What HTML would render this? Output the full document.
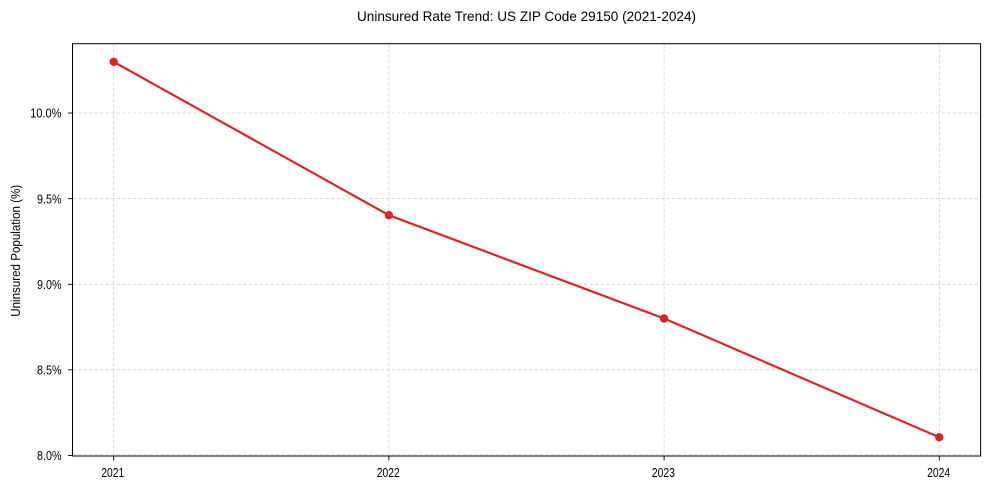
<!DOCTYPE html>
<html>
<head>
<meta charset="utf-8">
<style>
  html, body { margin: 0; padding: 0; background: #ffffff; }
  svg { display: block; }
  text { font-family: "Liberation Sans", Arial, sans-serif; fill: #000; }
</style>
</head>
<body>
<svg width="989" height="490" viewBox="0 0 989 490" xmlns="http://www.w3.org/2000/svg">
  <rect x="0" y="0" width="989" height="490" fill="#ffffff"/>

  <!-- Title -->
  <text x="526.5" y="21" font-size="14" text-anchor="middle" textLength="339" lengthAdjust="spacingAndGlyphs">Uninsured Rate Trend: US ZIP Code 29150 (2021-2024)</text>

  <!-- Grid lines -->
  <g stroke="#cccccc" stroke-width="0.8" stroke-dasharray="3.5,2" fill="none" opacity="0.9">
    <line x1="113.7" y1="43.7" x2="113.7" y2="456"/>
    <line x1="388.9" y1="43.7" x2="388.9" y2="456"/>
    <line x1="664.1" y1="43.7" x2="664.1" y2="456"/>
    <line x1="939.3" y1="43.7" x2="939.3" y2="456"/>
    <line x1="72.5" y1="454.5" x2="980.6" y2="454.5"/>
    <line x1="72.5" y1="369.8" x2="980.6" y2="369.8"/>
    <line x1="72.5" y1="284.3" x2="980.6" y2="284.3"/>
    <line x1="72.5" y1="198.7" x2="980.6" y2="198.7"/>
    <line x1="72.5" y1="113" x2="980.6" y2="113"/>
  </g>

  <!-- Data line -->
  <polyline points="113.7,61.8 388.9,215.2 664.1,318.5 939.3,437.3" fill="none" stroke="#d62728" stroke-width="2.2" stroke-linejoin="round" stroke-linecap="round"/>
  <g fill="#d62728">
    <circle cx="113.7" cy="61.8" r="4.2"/>
    <circle cx="388.9" cy="215.2" r="4.2"/>
    <circle cx="664.1" cy="318.5" r="4.2"/>
    <circle cx="939.3" cy="437.3" r="4.2"/>
  </g>

  <!-- Axes frame -->
  <rect x="72.5" y="43.7" width="908.1" height="412.3" fill="none" stroke="#000" stroke-width="1"/>

  <!-- Y ticks -->
  <g stroke="#000" stroke-width="0.9">
    <line x1="68" y1="455.5" x2="72.5" y2="455.5"/>
    <line x1="68" y1="369.8" x2="72.5" y2="369.8"/>
    <line x1="68" y1="284.3" x2="72.5" y2="284.3"/>
    <line x1="68" y1="198.7" x2="72.5" y2="198.7"/>
    <line x1="68" y1="113" x2="72.5" y2="113"/>
  </g>
  <g font-size="13" text-anchor="end">
    <text x="61.5" y="460.2" textLength="24.5" lengthAdjust="spacingAndGlyphs">8.0%</text>
    <text x="61.5" y="374.5" textLength="24.5" lengthAdjust="spacingAndGlyphs">8.5%</text>
    <text x="61.5" y="289" textLength="24.5" lengthAdjust="spacingAndGlyphs">9.0%</text>
    <text x="61.5" y="203.4" textLength="24.5" lengthAdjust="spacingAndGlyphs">9.5%</text>
    <text x="61.5" y="117.7" textLength="31.4" lengthAdjust="spacingAndGlyphs">10.0%</text>
  </g>

  <!-- X ticks -->
  <g stroke="#000" stroke-width="0.9">
    <line x1="113.7" y1="456" x2="113.7" y2="460.5"/>
    <line x1="388.9" y1="456" x2="388.9" y2="460.5"/>
    <line x1="664.1" y1="456" x2="664.1" y2="460.5"/>
    <line x1="939.3" y1="456" x2="939.3" y2="460.5"/>
  </g>
  <g font-size="13" text-anchor="middle">
    <text x="112.8" y="477" textLength="23" lengthAdjust="spacingAndGlyphs">2021</text>
    <text x="388.2" y="477" textLength="23" lengthAdjust="spacingAndGlyphs">2022</text>
    <text x="663.4" y="477" textLength="23" lengthAdjust="spacingAndGlyphs">2023</text>
    <text x="938.6" y="477" textLength="23" lengthAdjust="spacingAndGlyphs">2024</text>
  </g>

  <!-- Y axis label -->
  <text transform="translate(20,250.8) rotate(-90)" font-size="13" text-anchor="middle" textLength="132" lengthAdjust="spacingAndGlyphs">Uninsured Population (%)</text>
</svg>
</body>
</html>
